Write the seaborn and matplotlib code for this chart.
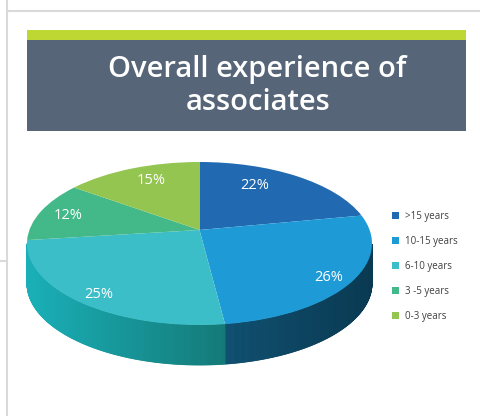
import numpy as np
import matplotlib
matplotlib.use("Agg")
import matplotlib.pyplot as plt
from matplotlib.patches import Rectangle
from matplotlib.lines import Line2D
from matplotlib.transforms import Transform
import seaborn as sns

# ---- data ----
categories = [">15 years", "10-15 years", "6-10 years", "3 -5 years", "0-3 years"]
shares = [22, 26, 25, 12, 15]
title_lines = ["Overall experience of", "associates"]

# ---- style ----
top_colors = ["#2169B0", "#1E9BD7", "#3CBEC8", "#43B98A", "#94C550"]
side_left = ["#174A7C", "#0F4F70", "#1AB0B8", "#2E8A64", "#6A9638"]
side_right = ["#10375C", "#0A3A52", "#137A78", "#216547", "#4E6F29"]
label_dist = [0.72, 0.88, 0.89, 0.82, 0.76]
label_shift = [10, -2, 2, 1, -2.5]   # degrees

sns.set_theme(style="white")
plt.rcParams["font.family"] = ["Open Sans", "DejaVu Sans"]

Q = 0.166  # perspective: where the pie centre lands (fraction of semi-height)
HQ = np.sqrt(1 - Q * Q)


def persp(xy):
    xy = np.asarray(xy, dtype=float)
    u, v = xy[..., 0], xy[..., 1]
    den = 1 + Q * v
    return np.stack([u * HQ / den, (v + Q) / den], axis=-1)


class Persp(Transform):
    input_dims = 2
    output_dims = 2
    is_separable = False
    has_inverse = False

    def transform_non_affine(self, values):
        return persp(values)


W, H = 481, 416
fig = plt.figure(figsize=(W / 100, H / 100), dpi=100)
fig.patch.set_facecolor("white")

bg = fig.add_axes([0, 0, 1, 1])
bg.set_xlim(0, W)
bg.set_ylim(H, 0)
bg.axis("off")
grey = "#D9D9D9"
bg.add_line(Line2D([7, 7], [0, H], color=grey, lw=1.5))
bg.add_line(Line2D([7, W], [11, 11], color=grey, lw=1.5))
bg.add_line(Line2D([0, 7], [261, 261], color=grey, lw=1.5))
bg.add_patch(Rectangle((27, 30), 439, 10, color="#BED732", lw=0))
bg.add_patch(Rectangle((27, 40), 439, 91, color="#566577", lw=0))
bg.text(257, 77, title_lines[0], color="white", fontsize=21, fontweight="semibold",
        ha="center", va="baseline")
bg.text(258, 110, title_lines[1], color="white", fontsize=21, fontweight="semibold",
        ha="center", va="baseline")

cx, cy, a, b = 199.5, 243.5, 172.5, 81.5
depth = 40 / b
ax = fig.add_axes([0, 0, 1, 1], zorder=2)
ax.patch.set_alpha(0)

# boundaries of slices on the rim, after perspective
fr = np.cumsum([0] + shares) / sum(shares)
for i in range(len(shares)):
    t_hi = np.radians(90 - fr[i] * 360)
    t_lo = np.radians(90 - fr[i + 1] * 360)
    th = np.linspace(t_lo, t_hi, 300)
    pts = persp(np.stack([np.cos(th), np.sin(th)], axis=-1))
    angs = np.arctan2(pts[:, 1], pts[:, 0])
    vis = angs <= 0
    if vis.sum() < 2:
        continue
    angs = np.sort(angs[vis])
    xs = np.cos(angs)
    cl = np.array(matplotlib.colors.to_rgb(side_left[i]))
    cr = np.array(matplotlib.colors.to_rgb(side_right[i]))
    xmin, xmax = xs.min(), xs.max()
    for k in range(len(angs) - 1):
        a1, a2 = angs[k], angs[k + 1]
        xm = 0.5 * (np.cos(a1) + np.cos(a2))
        t = 0 if xmax == xmin else (xm - xmin) / (xmax - xmin)
        col = cl + (cr - cl) * t
        px = [np.cos(a1), np.cos(a2), np.cos(a2), np.cos(a1)]
        py = [np.sin(a1), np.sin(a2), np.sin(a2) - depth, np.sin(a1) - depth]
        ax.fill(px, py, color=col, lw=0.6, ec=col)

wedges, texts, autotexts = ax.pie(
    shares, colors=top_colors, startangle=90, counterclock=False,
    radius=1.0, center=(0, 0), autopct="%d%%", pctdistance=0.8,
    textprops=dict(color="white", fontsize=10.5),
    wedgeprops=dict(linewidth=0))
tr = Persp() + ax.transData
for w in wedges:
    w.set_transform(tr)
for i, (w, t) in enumerate(zip(wedges, autotexts)):
    mid = np.radians(0.5 * (w.theta1 + w.theta2) + label_shift[i])
    p = persp(np.array([label_dist[i] * np.cos(mid), label_dist[i] * np.sin(mid)]))
    t.set_position((p[0], p[1]))
ax.set_aspect("auto")
ax.set_xlim(-cx / a, (W - cx) / a)
ax.set_ylim(-(H - cy) / b, cy / b)
ax.axis("off")

fig.legend(wedges, categories, loc="upper left", bbox_to_anchor=(388 / W, 1 - 207 / H),
           frameon=False, fontsize=7, labelcolor="#404040", handlelength=0.75,
           handleheight=0.75, handletextpad=0.6, labelspacing=1.45, borderaxespad=0)

fig.savefig("out.png", dpi=100)
